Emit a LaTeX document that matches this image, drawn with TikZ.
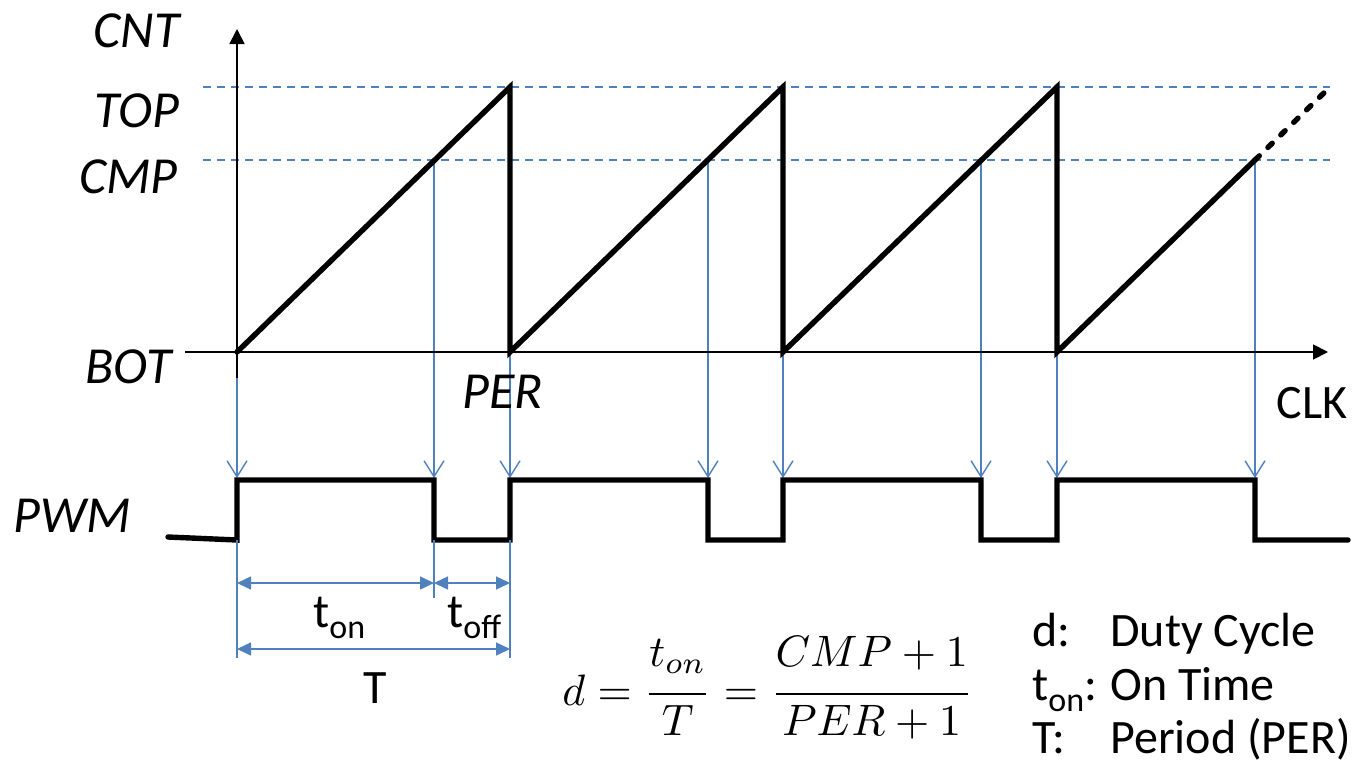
\documentclass[tikz,border=0pt]{standalone}
\usepackage{graphicx}
\usepackage[no-math]{fontspec}
\setmainfont{Carlito}
\usetikzlibrary{arrows.meta}
\definecolor{lblue}{RGB}{79,129,189}
\newcommand\mysub[1]{\raisebox{-0.23em}{\fontsize{17}{20}\selectfont #1}}
\begin{document}
\begin{tikzpicture}[x=0.5pt,y=-0.5pt,
  axisline/.style={line width=0.9pt, -{Triangle[length=7.5pt,width=7.5pt]}},
  wave/.style={line width=2.7pt, line cap=round, line join=miter},
  guide/.style={lblue, line width=1.1pt, dash pattern=on 4pt off 3pt},
  drop/.style={lblue, line width=0.7pt, -{Straight Barb[length=8pt,width=10pt,line width=0.7pt]}},
  extline/.style={lblue, line width=0.7pt},
  dimarrow/.style={lblue, line width=0.7pt, {Triangle[length=7pt,width=6.5pt]}-{Triangle[length=7pt,width=6.5pt]}},
  lab/.style={font=\fontsize{26}{31}\selectfont\itshape, inner sep=0pt},
  txt/.style={font=\fontsize{24}{29}\selectfont, inner sep=0pt},
]
\useasboundingbox (0,0) rectangle (1359,766);
% axes and guide coordinates
\coordinate (O) at (237,352);
\coordinate (ytip) at (237,29);
\coordinate (ybot) at (237,378);
\coordinate (xstart) at (185,352);
\coordinate (xtip) at (1328,352);
\coordinate (topL) at (203,87);  \coordinate (topR) at (1330,87);
\coordinate (cmpL) at (203,160); \coordinate (cmpR) at (1330,160);
% sawtooth
\coordinate (p1) at (510,87);  \coordinate (b1) at (510,352);
\coordinate (p2) at (783,87);  \coordinate (b2) at (783,352);
\coordinate (p3) at (1057,87); \coordinate (b3) at (1057,352);
\coordinate (c4) at (1255,160); \coordinate (p4) at (1330,87);
\coordinate (c1) at (434,160); \coordinate (c2) at (708,160); \coordinate (c3) at (981,160);
% PWM arrow targets
\coordinate (u0) at (237,478); \coordinate (u1) at (434,478);
\coordinate (u2) at (510,478); \coordinate (u3) at (708,478);
\coordinate (u4) at (783,478); \coordinate (u5) at (981,478);
\coordinate (u6) at (1057,478); \coordinate (u7) at (1255,478);
% dimension coordinates
\coordinate (e0a) at (237,540); \coordinate (e0b) at (237,658);
\coordinate (e1a) at (434,540); \coordinate (e1b) at (434,598);
\coordinate (e2a) at (510,540); \coordinate (e2b) at (510,658);
\coordinate (d0) at (237,583); \coordinate (d1) at (434,583); \coordinate (d2) at (510,583);
\coordinate (f0) at (237,649); \coordinate (f2) at (510,649);

% guides
\draw[guide] (topL) -- (topR);
\draw[guide] (cmpL) -- (cmpR);

% drop arrows
\draw[drop] (O) -- (u0);
\draw[drop] (c1) -- (u1);
\draw[drop] (b1) -- (u2);
\draw[drop] (c2) -- (u3);
\draw[drop] (b2) -- (u4);
\draw[drop] (c3) -- (u5);
\draw[drop] (b3) -- (u6);
\draw[drop] (c4) -- (u7);

% axes
\draw[axisline] (ybot) -- (ytip);
\draw[axisline] (xstart) -- (xtip);

% sawtooth counter
\draw[wave] (O) -- (p1) -- (b1) -- (p2) -- (b2) -- (p3) -- (b3) -- (c4);
\draw[wave, dash pattern=on 3pt off 6pt] (c4) -- (p4);

% PWM signal
\draw[wave] (168,537) -- (237,540) -- (237,480) -- (434,480) -- (434,540) -- (510,540)
  -- (510,480) -- (708,480) -- (708,540) -- (783,540) -- (783,480) -- (981,480)
  -- (981,540) -- (1057,540) -- (1057,480) -- (1255,480) -- (1255,540) -- (1348,540);

% dimensions
\draw[extline] (e0a) -- (e0b);
\draw[extline] (e1a) -- (e1b);
\draw[extline] (e2a) -- (e2b);
\draw[dimarrow] (d0) -- (d1);
\draw[dimarrow] (d1) -- (d2);
\draw[dimarrow] (f0) -- (f2);

% labels
\node[lab, anchor=base east] (cnt) at (180,47) {CNT};
\node[lab, anchor=base east] (top) at (180,127) {TOP};
\node[lab, anchor=base east] (cmp) at (178,193) {CMP};
\node[lab, anchor=base east] (bot) at (172,383) {BOT};
\node[lab, anchor=base west] (per) at (462,408) {PER};
\node[lab, anchor=base west] (pwm) at (13,532) {PWM};
\node[txt, anchor=base east] (clk) at (1348,418) {CLK};

\node[txt, anchor=base west] (ton) at (313,627) {t\mysub{on}};
\node[txt, anchor=base west] (toff) at (447,627) {t\mysub{off}};
\node[txt, anchor=base] (tper) at (375,703) {T};

% formula
\node[anchor=base west, inner sep=0pt] (eq) at (562,705) {\scalebox{2.2}{%
  $\displaystyle d=\frac{t_{on}\vrule depth 4.8pt width 0pt}{T}
   =\frac{CMP+1\vrule depth 4.8pt width 0pt}{PER+1}$}};

% legend
\node[txt, anchor=base west] (lg1a) at (1032,646) {d:};
\node[txt, anchor=base west] (lg1b) at (1110,646) {Duty Cycle};
\node[txt, anchor=base west] (lg2a) at (1032,700) {t\mysub{on}:};
\node[txt, anchor=base west] (lg2b) at (1110,700) {On Time};
\node[txt, anchor=base west] (lg3a) at (1032,753) {T:};
\node[txt, anchor=base west] (lg3b) at (1110,753) {Period (PER)};
\end{tikzpicture}
\end{document}
